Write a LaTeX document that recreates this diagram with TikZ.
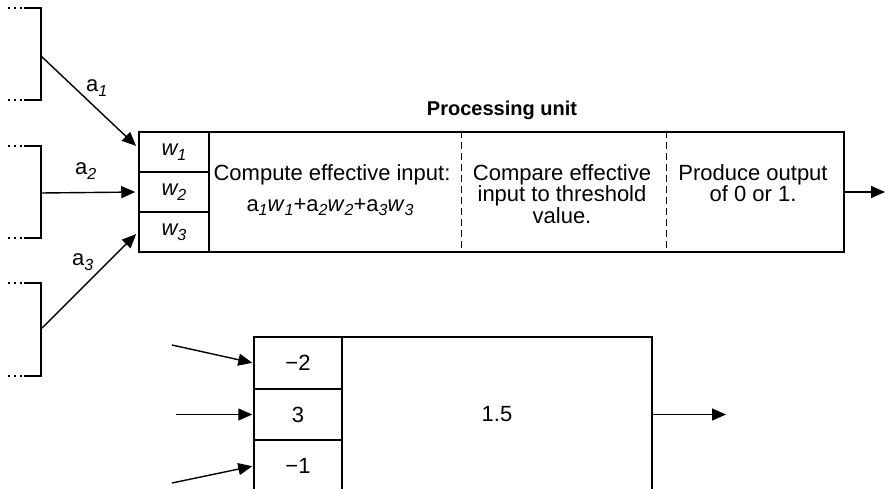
\documentclass[tikz,border=0pt]{standalone}
\usepackage{fontspec}
\setmainfont{Liberation Sans}
\usetikzlibrary{arrows.meta}
\newcommand\mysub[1]{\raisebox{-5pt}{\fontsize{16}{16}\selectfont\itshape #1}}
\begin{document}
\begin{tikzpicture}[x=1pt,y=-1pt,
  lw/.style={line width=1.5pt},
  cell/.style={draw, line width=1.5pt, inner sep=0pt, font=\fontsize{22}{19}\selectfont},
  arr/.style={line width=1.4pt, -{Triangle[length=14pt,width=12pt]}},
  txt/.style={inner sep=0pt, font=\fontsize{22}{19}\selectfont, align=center},
  dotline/.style={line width=2pt, dash pattern=on 2pt off 4pt},
  sepline/.style={line width=1.5pt, dash pattern=on 7pt off 4pt},
]
\useasboundingbox (0,0) rectangle (885,489);
\clip (0,0) rectangle (885,489);

% input brackets
\foreach \t/\b in {8/100, 146/238, 283/376}{
  \draw[dotline] (8,\t) -- (23,\t);
  \draw[dotline] (8,\b) -- (23,\b);
  \draw[lw] (24,\t) -- (41,\t) -- (41,\b) -- (24,\b);
}
\coordinate (s1) at (41,56);
\coordinate (s2) at (41,193);
\coordinate (s3) at (41,329);

% processing unit
\node[cell, minimum width=705pt, minimum height=120pt] (unit) at (491.5,192) {};
\node[cell, minimum width=70pt, minimum height=40pt] (w1) at (174,152) {\itshape w\mysub{1}};
\node[cell, minimum width=70pt, minimum height=40pt] (w2) at (174,192) {\itshape w\mysub{2}};
\node[cell, minimum width=70pt, minimum height=40pt] (w3) at (174,232) {\itshape w\mysub{3}};
\node[cell, draw=none, minimum width=253pt, minimum height=120pt] (comp) at (335.5,192) {};
\node[cell, draw=none, minimum width=205pt, minimum height=120pt] (cmpr) at (564.5,192) {};
\node[cell, draw=none, minimum width=177pt, minimum height=120pt] (prod) at (755.5,192) {};
\draw[lw] (comp.north west) -- (comp.south west);
\draw[sepline] (cmpr.north west) -- (cmpr.south west);
\draw[sepline] (prod.north west) -- (prod.south west);

\node[txt, anchor=base] (ctext) at (332,180) {Compute effective input:};
\node[txt, anchor=base] (ftext) at (330,211) {a\mysub{1}\textit{w}\mysub{1}+a\mysub{2}\textit{w}\mysub{2}+a\mysub{3}\textit{w}\mysub{3}};
\node[txt, anchor=north] (cmptext) at (562,164) {Compare effective\\input to threshold\\value.};
\node[txt, anchor=north] (prodtext) at (753,164) {Produce output\\of 0 or 1.};
\node[inner sep=0pt, anchor=base, font=\fontsize{20}{20}\selectfont\bfseries] (title) at (502,116) {Processing unit};

% input arrows
\draw[arr, shorten >=3pt] (s1) -- ([yshift=4pt]w1.west);
\draw[arr, shorten >=3pt] (s2) -- (w2.west);
\draw[arr, shorten >=3pt] (s3) -- (w3.west);
\node[txt, anchor=base west] (a1) at (86,92) {a\mysub{1}};
\node[txt, anchor=base west] (a2) at (75,175) {a\mysub{2}};
\node[txt, anchor=base west] (a3) at (72,265) {a\mysub{3}};

% output arrow
\coordinate (o1) at (885,192);
\draw[arr] (unit.east) -- (o1);

% example unit
\node[cell, minimum width=88pt, minimum height=52pt] (b1) at (298,363) {−2};
\node[cell, minimum width=88pt, minimum height=51pt] (b2) at (298,414.5) {3};
\node[cell, minimum width=88pt, minimum height=52pt] (b3) at (298,466) {−1};
\node[cell, minimum width=310pt, minimum height=155pt] (thr) at (497,414.5) {1.5};

\coordinate (i1) at (172,345);
\coordinate (i2) at (176,414.5);
\coordinate (i3) at (172,483);
\coordinate (o2) at (726,414.5);
\draw[arr, shorten >=1pt] (i1) -- (b1.west);
\draw[arr, shorten >=1pt] (i2) -- (b2.west);
\draw[arr, shorten >=1pt] (i3) -- (b3.west);
\draw[arr] (thr.east) -- (o2);
\end{tikzpicture}
\end{document}
